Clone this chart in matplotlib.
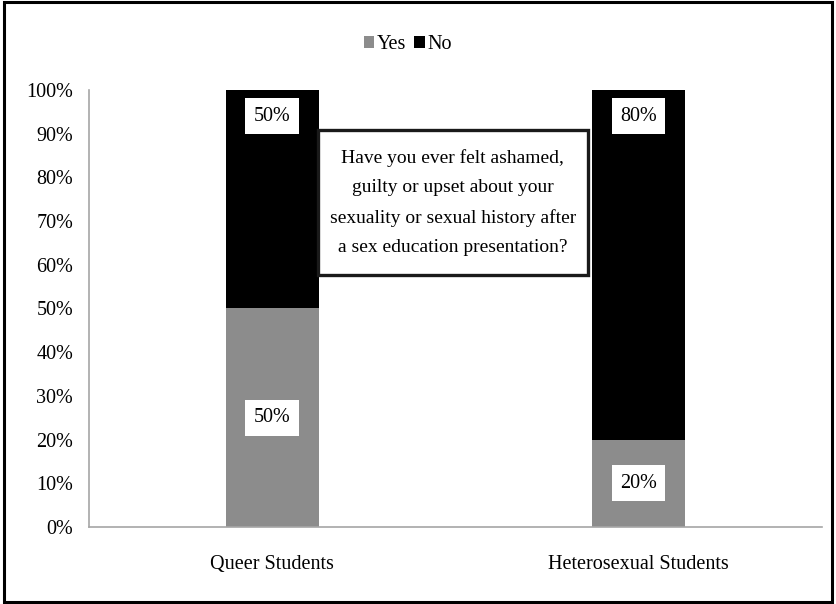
import matplotlib
matplotlib.use("Agg")
import matplotlib.pyplot as plt
from matplotlib.patches import Rectangle
from matplotlib.ticker import PercentFormatter

categories = ["Queer Students", "Heterosexual Students"]
yes_values = [50, 20]
no_values = [50, 80]
series_names = ["Yes", "No"]
question = ("Have you ever felt ashamed,\nguilty or upset about your\n"
            "sexuality or sexual history after\na sex education presentation?")

plt.rcParams["font.family"] = ["Liberation Serif", "DejaVu Serif"]

YES_COLOR = "#8c8c8c"
NO_COLOR = "#000000"
AXIS_COLOR = "#a6a6a6"

fig = plt.figure(figsize=(8.36, 6.04), dpi=100)
ax = fig.add_axes([0.1065, 0.1275, 0.8765, 0.7235])

x = list(range(len(categories)))
width = 0.255
bars_yes = ax.bar(x, yes_values, width, color=YES_COLOR, label=series_names[0])
bars_no = ax.bar(x, no_values, width, bottom=yes_values, color=NO_COLOR,
                 label=series_names[1])

ax.set_xlim(-0.5, 1.5)
ax.set_ylim(0, 100)
ax.set_yticks(range(0, 101, 10))
ax.yaxis.set_major_formatter(PercentFormatter(decimals=0))
ax.set_xticks(x)
ax.set_xticklabels(categories)

for side in ("top", "right"):
    ax.spines[side].set_visible(False)
for side in ("left", "bottom"):
    ax.spines[side].set_color(AXIS_COLOR)
    ax.spines[side].set_linewidth(1.2)
ax.tick_params(axis="both", length=0, labelsize=14.5)
ax.tick_params(axis="y", pad=11.5)
ax.tick_params(axis="x", pad=20)

box = dict(boxstyle="square,pad=0.42", facecolor="white", edgecolor="none")
for xi, yv in zip(x, yes_values):
    ax.text(xi, yv / 2, f"{yv}%", ha="center", va="center", fontsize=14.5,
            bbox=box)
for xi, nv in zip(x, no_values):
    ax.text(xi, 94, f"{nv}%", ha="center", va="center", fontsize=14.5,
            bbox=box)

# Question callout in the middle of the plot
ax.add_patch(Rectangle((0.125, 57.7), 0.737, 33.1, facecolor="white",
                       edgecolor="#1a1a1a", linewidth=2.4, zorder=4))
ax.text(0.493, 74.3, question, ha="center", va="center", fontsize=14,
        linespacing=1.94, zorder=5)

leg = fig.legend(handles=[bars_yes, bars_no], labels=series_names,
                 loc="center", bbox_to_anchor=(0.488, 0.926), ncol=2,
                 frameon=False, fontsize=14.5, handlelength=0.5,
                 handleheight=0.5, handletextpad=0.15, columnspacing=0.4)

# Frame around the whole figure
fig.patches.append(Rectangle((0.005, 0.004), 0.99, 0.992,
                             transform=fig.transFigure, fill=False,
                             edgecolor="black", linewidth=2.2))

fig.savefig("out.png", dpi=100)
